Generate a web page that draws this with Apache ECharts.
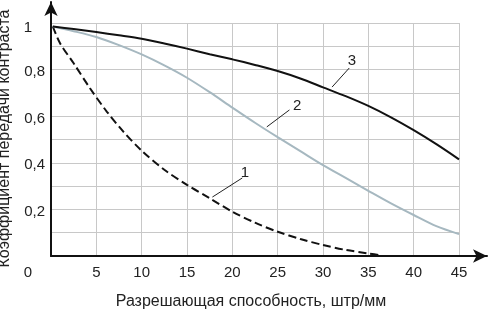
<!DOCTYPE html>
<html><head><meta charset="utf-8">
<script src="https://cdn.jsdelivr.net/npm/echarts@6/dist/echarts.min.js"></script>
<style>html,body{margin:0;padding:0;background:#fff}#c{width:488px;height:312px}</style>
</head><body><div id="c"></div>
<script>
// Data
const xTickLabels = ['0','5','10','15','20','25','30','35','40','45'];
const yTickLabels = {2:'0,2',4:'0,4',6:'0,6',8:'0,8',10:'1'};
const curve1 = [[0.2,0.985],[1,0.913],[2.5,0.827],[4.3,0.72],[6.15,0.62],[8,0.533],[10,0.452],[12.5,0.37],[15,0.305],[17.5,0.248],[20,0.19],[22.5,0.143],[25,0.104],[27.5,0.073],[30,0.047],[32.5,0.026],[35,0.011],[36.5,0.002]];
const curve2 = [[0.2,0.985],[2.5,0.965],[5,0.94],[7.5,0.905],[10,0.865],[12.5,0.818],[15,0.765],[17.5,0.703],[20,0.637],[22.5,0.572],[25,0.51],[27.5,0.45],[30,0.39],[32.5,0.335],[35,0.28],[37.5,0.226],[40,0.176],[42.5,0.128],[45,0.094]];
const curve3 = [[0.2,0.985],[2.5,0.974],[5,0.961],[7.5,0.947],[10,0.932],[12.5,0.912],[15,0.89],[17.5,0.866],[20,0.844],[22.5,0.82],[25,0.794],[27.5,0.762],[30,0.724],[32.5,0.686],[35,0.644],[37.5,0.595],[40,0.54],[42.5,0.48],[45,0.415]];
const curveNames = ['1','2','3'];
const labelPos = [[21.4,0.356],[27.15,0.644],[33.2,0.837]];
const leaders = [[[21.1,0.335],[17.8,0.253]],[[26.3,0.627],[23.8,0.554]],[[32.9,0.807],[31.0,0.725]]];

const font = 'Liberation Sans, Arial, sans-serif';
const chart = echarts.init(document.getElementById('c'), null, {renderer:'canvas'});

function mk(i, data, color, lineType){
  return {
    type:'line', xAxisIndex:0, yAxisIndex:0, data:data, showSymbol:false, smooth:0.3,
    lineStyle:{color:color, width:2, type:lineType}, z:3,
    markPoint:{symbol:'circle', symbolSize:0, silent:true,
      label:{show:true, formatter:curveNames[i], color:'#222', fontSize:15, fontFamily:font, position:'inside'},
      data:[{coord:labelPos[i]}]},
    markLine:{symbol:'none', silent:true, label:{show:false},
      lineStyle:{color:'#222', width:1, type:'solid'},
      data:[[{coord:leaders[i][0]},{coord:leaders[i][1]}]]}
  };
}

chart.setOption({
  animation:false,
  grid:[
    {left:51, right:29, top:23, bottom:56, outerBoundsMode:'none', containLabel:false},
    {left:51, right:1, top:2, bottom:56, outerBoundsMode:'none', containLabel:false}
  ],
  xAxis:[
    {type:'value', gridIndex:0, min:0, max:45, interval:5,
     axisLine:{show:false}, axisTick:{show:false},
     splitLine:{show:true, lineStyle:{color:'#c8c8c8', width:1}},
     axisLabel:{color:'#222', fontSize:15, fontFamily:font, margin:9,
       formatter:function(v){const s = xTickLabels[Math.round(v/5)]; return v===0 ? '{z|'+s+'}' : s;},
       rich:{z:{fontSize:15, fontFamily:font, color:'#222', padding:[0,46,0,0]}}},
     name:'Разрешающая способность, штр/мм', nameLocation:'middle', nameGap:38,
     nameTextStyle:{color:'#222', fontSize:16, fontFamily:font, padding:[0,0,0,-8]}},
    {type:'value', gridIndex:1, min:0, max:1,
     axisLine:{show:true, lineStyle:{color:'#111', width:2}, symbol:['none','arrow'], symbolSize:[10,14]},
     axisTick:{show:false}, axisLabel:{show:false}, splitLine:{show:false}}
  ],
  yAxis:[
    {type:'value', gridIndex:0, min:0, max:1, interval:0.1,
     axisLine:{show:false}, axisTick:{show:false},
     splitLine:{show:true, lineStyle:{color:'#c8c8c8', width:1}},
     axisLabel:{color:'#222', fontSize:15, fontFamily:font, margin:6, verticalAlign:'middle', padding:[5,0,0,0],
       formatter:function(v){const s = yTickLabels[Math.round(v*10)] || ''; return Math.round(v*10)===10 ? '{o|'+s+'}' : s;},
       rich:{o:{fontSize:15, fontFamily:font, color:'#222', padding:[5,13,0,0]}}},
     name:'Коэффициент передачи контраста', nameLocation:'middle', nameGap:34, nameRotate:90,
     nameTextStyle:{color:'#222', fontSize:16, fontFamily:font, padding:[0,0,0,2]}},
    {type:'value', gridIndex:1, min:0, max:1,
     axisLine:{show:true, lineStyle:{color:'#111', width:2}, symbol:['none','arrow'], symbolSize:[10,14]},
     axisTick:{show:false}, axisLabel:{show:false}, splitLine:{show:false}}
  ],
  series:[
    mk(0, curve1, '#111', [8,4]),
    mk(1, curve2, '#a6b8c0', 'solid'),
    mk(2, curve3, '#111', 'solid')
  ]
});
</script></body></html>
